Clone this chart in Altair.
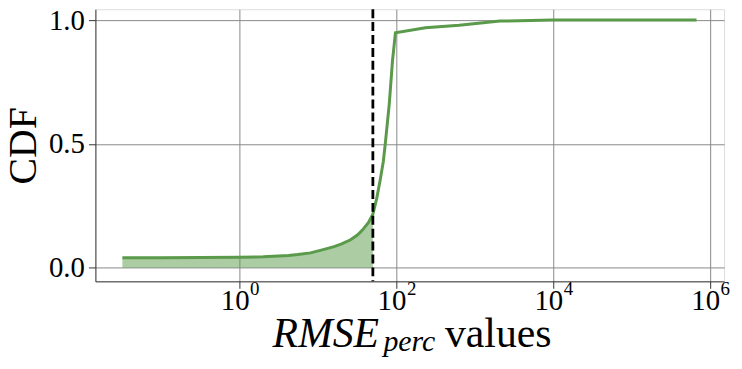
import altair as alt
import pandas as pd

# ---- data ----
rmse_values = [0.032, 0.1, 0.32, 1.0, 2.0, 4.2, 5.5, 8.0, 11.0, 16.0, 20.0, 26.0,
               32.0, 37.0, 44.0, 50.0, 56.0, 62.0, 68.0, 72.0, 81.0, 89.0, 97.0,
               234.0, 630.0, 2090.0, 9800.0, 100000.0, 670000.0]
cdf_values = [0.040, 0.040, 0.041, 0.0425, 0.044, 0.049, 0.053, 0.060, 0.071, 0.085,
              0.096, 0.113, 0.133, 0.153, 0.183, 0.216, 0.28, 0.354, 0.43, 0.501,
              0.663, 0.836, 0.949, 0.969, 0.979, 0.996, 1.0, 1.0, 1.0]
threshold = 50.0
x_tick_values = [1, 100, 10000, 1000000]
x_tick_bases = ["10", "10", "10", "10"]
x_tick_exponents = ["0", "2", "4", "6"]
y_tick_values = [0.0, 0.5, 1.0]
x_title_parts = ["RMSE", "perc", "values"]
y_title = "CDF"

FONT = "Liberation Serif"
GREEN = "#5a9a4a"

df = pd.DataFrame({"rmse": rmse_values, "cdf": cdf_values})
tick_df = pd.DataFrame({"v": x_tick_values, "b": x_tick_bases, "e": x_tick_exponents})

W, H = 633, 274
xscale = alt.Scale(type="log", domain=[0.01449, 1.503e6], nice=False)
yscale = alt.Scale(domain=[-0.055, 1.044], nice=False, zero=False)

xaxis = alt.Axis(
    values=x_tick_values, labels=False, tickSize=7,
    tickColor="#333", domainColor="#333", grid=True, gridColor="#888",
    gridWidth=1, title=None,
)
yaxis = alt.Axis(
    values=y_tick_values, format=".1f", labelFont=FONT, labelFontSize=29,
    labelColor="black", labelPadding=4, tickSize=7, tickColor="#333",
    domainColor="#333", grid=True, gridColor="#888", gridWidth=1,
    title=y_title, titleFont=FONT, titleFontSize=40, titleFontWeight="normal",
    titleColor="black", titleAngle=270, titleX=-60, titleY=137,
    titleAlign="center", titleBaseline="alphabetic",
)

base = alt.Chart(df)

area = base.transform_filter(alt.datum.rmse <= threshold).mark_area(
    color=GREEN, opacity=0.5
).encode(
    x=alt.X("rmse:Q", scale=xscale, axis=xaxis),
    y=alt.Y("cdf:Q", scale=yscale, axis=yaxis),
    y2=alt.datum(0),
)

line = base.mark_line(color=GREEN, strokeWidth=3).encode(
    x=alt.X("rmse:Q", scale=xscale, axis=xaxis),
    y=alt.Y("cdf:Q", scale=yscale, axis=yaxis),
)

rule = alt.Chart(pd.DataFrame({"t": [threshold]})).mark_rule(
    color="black", strokeWidth=2.8, strokeDash=[9, 4]
).encode(x=alt.X("t:Q", scale=xscale, axis=xaxis))

tick_base = alt.Chart(tick_df).mark_text(
    font=FONT, fontSize=29, align="right", baseline="alphabetic", dx=10, color="black"
).encode(
    x=alt.X("v:Q", scale=xscale, axis=xaxis),
    y=alt.value(303),
    text="b:N",
)

tick_sup = alt.Chart(tick_df).mark_text(
    font=FONT, fontSize=19, align="left", baseline="alphabetic", dx=10.5, color="black"
).encode(
    x=alt.X("v:Q", scale=xscale, axis=xaxis),
    y=alt.value(288),
    text="e:N",
)

t_main = alt.Chart(pd.DataFrame({"t": [x_title_parts[0]]})).mark_text(
    font=FONT, fontSize=42, fontStyle="italic", align="center",
    baseline="alphabetic", color="black"
).encode(x=alt.value(232), y=alt.value(340), text="t:N")

t_sub = alt.Chart(pd.DataFrame({"t": [x_title_parts[1]]})).mark_text(
    font=FONT, fontSize=30, fontStyle="italic", align="left",
    baseline="alphabetic", color="black"
).encode(x=alt.value(290), y=alt.value(344), text="t:N")

t_rest = alt.Chart(pd.DataFrame({"t": [x_title_parts[2]]})).mark_text(
    font=FONT, fontSize=42, align="left", baseline="alphabetic", color="black"
).encode(x=alt.value(352), y=alt.value(340), text="t:N")

chart = alt.layer(area, line, rule, tick_base, tick_sup, t_main, t_sub, t_rest).properties(
    width=W, height=H,
    autosize=alt.AutoSizeParams(type="none"),
    padding={"left": 88, "top": 0, "right": 10, "bottom": 80},
).configure_view(stroke="#333", strokeWidth=1).configure(background="white")

chart.save("out.html", embed_options={"renderer": "svg", "actions": False})
